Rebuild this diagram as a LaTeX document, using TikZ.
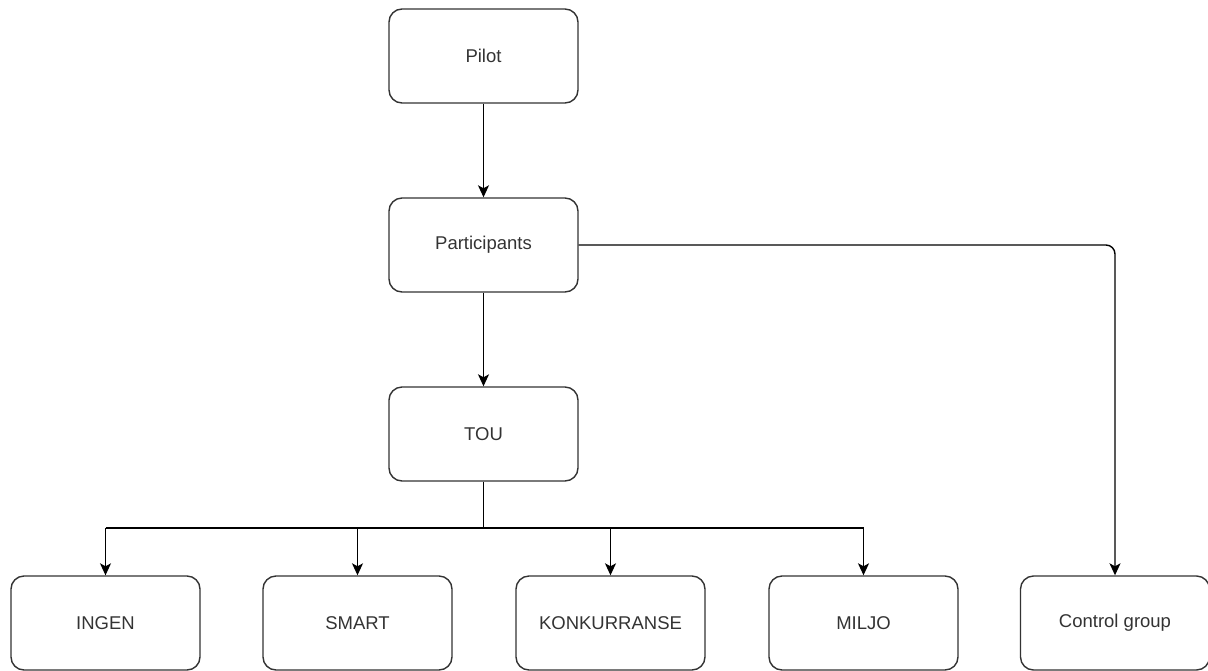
\documentclass[tikz,border=0pt]{standalone}
\usepackage{fontspec}
\setmainfont{Liberation Sans}
\usetikzlibrary{arrows.meta}
\definecolor{ink}{HTML}{333333}
\tikzset{
  box/.style={draw=ink, line width=1.4pt, rounded corners=13pt, minimum width=189pt, minimum height=94pt, inner sep=0pt, text=ink, font=\fontsize{18.5pt}{22pt}\selectfont},
  conn/.style={draw=black, line width=1.4pt, -{Stealth[length=12pt,width=11pt,inset=3pt]}}
}
\begin{document}
\begin{tikzpicture}[x=1pt,y=-1pt]
\useasboundingbox (0,0) rectangle (1208,670);
\node[box] (pilot) at (483.5,56) {Pilot};
\node[box] (part) at (483.5,245) {Participants};
\node[box] (tou) at (483.5,434) {TOU};
\node[box] (ingen) at (105.5,623) {INGEN};
\node[box] (smart) at (357.5,623) {SMART};
\node[box] (konk) at (610.5,623) {KONKURRANSE};
\node[box] (miljo) at (863.5,623) {MILJO};
\node[box] (ctrl) at (1115,623) {Control group};
\coordinate (split) at (483.5,528);
\draw[conn] (pilot) -- (part);
\draw[conn] (part) -- (tou);
\draw[conn, rounded corners=9pt] (part.east) -| (ctrl.north);
\draw[draw=black, line width=1.4pt] (tou.south) -- (split);
\draw[draw=black, line width=1.4pt] (split -| ingen.north) -- (split -| miljo.north);
\draw[conn] (split -| ingen.north) -- (ingen.north);
\draw[conn] (split -| smart.north) -- (smart.north);
\draw[conn] (split -| konk.north) -- (konk.north);
\draw[conn] (split -| miljo.north) -- (miljo.north);
\end{tikzpicture}
\end{document}
